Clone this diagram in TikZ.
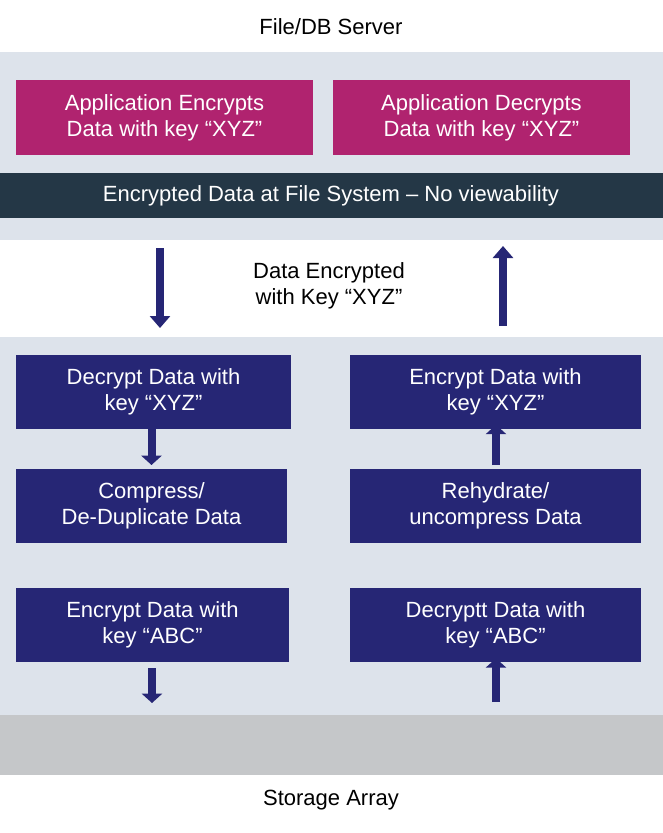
\documentclass[tikz,border=0pt]{standalone}
\usepackage{fontspec}
\setmainfont{Liberation Sans}
\usetikzlibrary{arrows.meta}
\definecolor{panel}{HTML}{DDE3EB}
\definecolor{magbox}{HTML}{B0236F}
\definecolor{navy}{HTML}{262675}
\definecolor{darkbar}{HTML}{243746}
\definecolor{stor}{HTML}{C5C7C9}
\begin{document}
\begin{tikzpicture}[x=0.75pt,y=-0.75pt,
  box/.style={draw=none,text=white,align=center,font=\fontsize{16.5}{19.5}\selectfont,inner sep=0pt},
  lbl/.style={align=center,font=\fontsize{16.5}{19.5}\selectfont,inner sep=0pt},
  blk/.style={draw=navy,line width=6.5pt,-{Triangle[width=15pt,length=9pt]}},
  sblk/.style={draw=navy,line width=6pt,-{Triangle[width=15pt,length=7pt]}}]
\useasboundingbox (0,0) rectangle (663,833);
% bands
\fill[panel] (0,52) rectangle (663,240);
\fill[panel] (0,337) rectangle (663,715);
\fill[stor] (0,715) rectangle (663,775);
\fill[darkbar] (0,173) rectangle (663,218);
\node[lbl] (top) at (331,27) {File/DB Server};
\node[lbl] (bot) at (331,800) {Storage Array};
\node[box] (bar) at (331,196) {Encrypted Data at File System -- No viewability};
% magenta boxes
\node[box,fill=magbox,minimum width=297*0.75pt,minimum height=75*0.75pt] (ae) at (164.5,117.5) {Application Encrypts\\Data with key “XYZ”};
\node[box,fill=magbox,minimum width=297*0.75pt,minimum height=75*0.75pt] (ad) at (481.5,117.5) {Application Decrypts\\Data with key “XYZ”};
% middle
\node[lbl] (mid) at (329,286) {Data Encrypted\\with Key “XYZ”};
\coordinate (d1) at (160,248); \coordinate (d2) at (160,328);
\coordinate (u1) at (503,326); \coordinate (u2) at (503,246);
\draw[blk] (d1) -- (d2);
\draw[blk] (u1) -- (u2);
% navy boxes
\tikzset{nb/.style={box,fill=navy,minimum height=74*0.75pt}}
\node[nb,minimum width=275*0.75pt] (l1) at (153.5,391.5) {Decrypt Data with\\key “XYZ”};
\node[nb,minimum width=271*0.75pt] (l2) at (151.5,505.5) {Compress/\\De-Duplicate Data};
\node[nb,minimum width=273*0.75pt] (l3) at (152.5,625) {Encrypt Data with\\key “ABC”};
\node[nb,minimum width=291*0.75pt] (r1) at (495.5,391.5) {Encrypt Data with\\key “XYZ”};
\node[nb,minimum width=291*0.75pt] (r2) at (495.5,505.5) {Rehydrate/\\uncompress Data};
\node[nb,minimum width=291*0.75pt] (r3) at (495.5,625) {Decryptt Data with\\key “ABC”};
\draw[sblk] ([xshift=-1.5pt]l1.south) ++(0,-4) -- ([xshift=-1.5pt]l1.south |- 0,465);
\coordinate (la) at (152,668); \coordinate (lb) at (152,703);
\draw[sblk] (la) -- (lb);
\coordinate (ra) at (496,465); \draw[sblk] (ra) -- ([yshift=3pt]ra |- r1.south);
\coordinate (rb) at (496,702); \draw[sblk] (rb) -- ([yshift=3pt]rb |- r3.south);
\end{tikzpicture}
\end{document}
